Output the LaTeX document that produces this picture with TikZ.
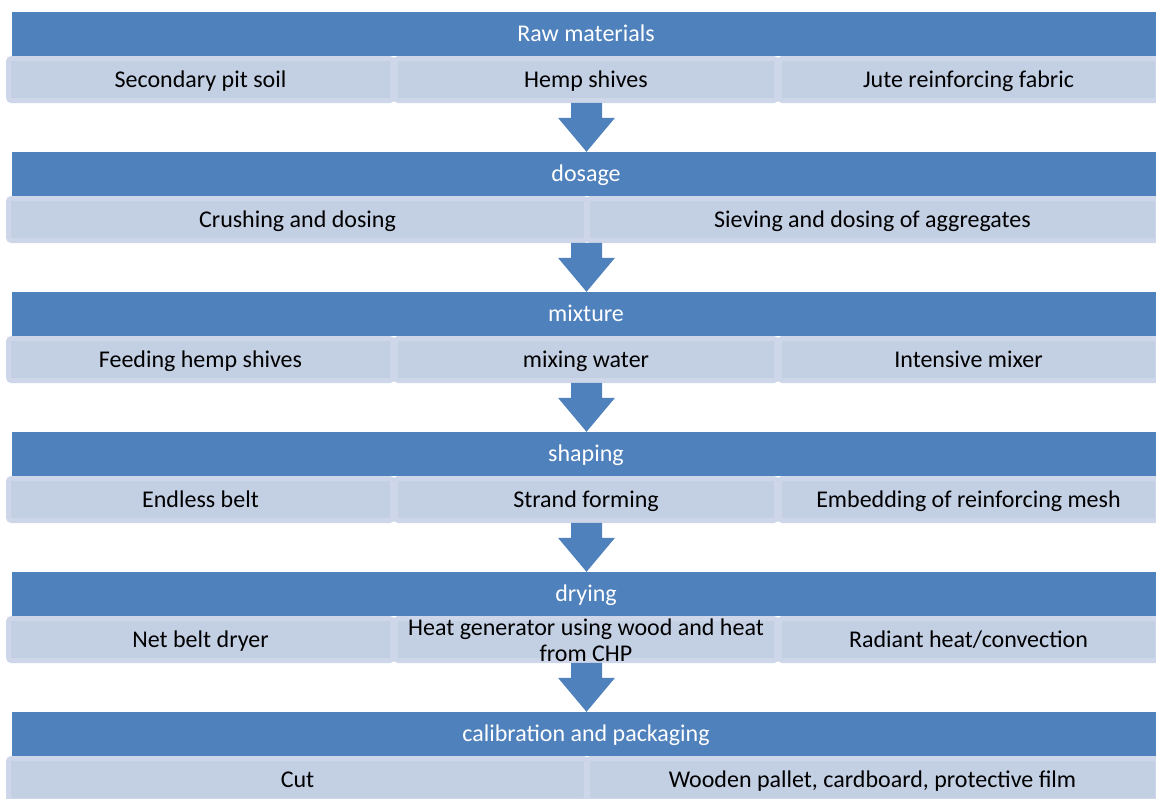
\documentclass[tikz,border=0pt]{standalone}
\usepackage{fontspec}
\usetikzlibrary{calc}
\setmainfont{Carlito}
\definecolor{hdrblue}{HTML}{4F81BD}
\definecolor{subfill}{HTML}{C3CFE3}
\definecolor{subedge}{HTML}{CED7E9}
\tikzset{
  hdr/.style={rectangle, fill=hdrblue, draw=none, text=white, minimum width=1148pt, minimum height=44pt, inner sep=0pt, text height=15.5pt, text depth=0pt, font=\fontsize{24}{27}\selectfont},
  subbox/.style={rectangle, rounded corners=3pt, fill=subfill, draw=subedge, line width=5pt, minimum height=42pt, inner sep=0pt, text height=15.5pt, text depth=0pt, text=black, font=\fontsize{24}{27}\selectfont, align=center},
  blockarrow/.style={fill=hdrblue, draw=none}
}
\begin{document}
\begin{tikzpicture}[x=1pt,y=-1pt]
\useasboundingbox (0,0) rectangle (1156,798);
\clip (0,0) rectangle (1156,798);
\fill[white] (0,0) rectangle (1156,798);

% Stage 1
\node[hdr] (h1) at (586,34) {Raw materials};
\node[subbox, minimum width=384pt] (s1a) at (200.5,79.5) {Secondary pit soil};
\node[subbox, minimum width=381pt] (s1b) at (586,79.5) {Hemp shives};
\node[subbox, minimum width=378pt] (s1c) at (968.5,79.5) {Jute reinforcing fabric};

% Stage 2
\node[hdr] (h2) at (586,174) {dosage};
\node[subbox, minimum width=578pt] (s2a) at (297.5,219.5) {Crushing and dosing};
\node[subbox, minimum width=570pt] (s2b) at (872.5,219.5) {Sieving and dosing of aggregates};

% Stage 3
\node[hdr] (h3) at (586,314) {mixture};
\node[subbox, minimum width=384pt] (s3a) at (200.5,359.5) {Feeding hemp shives};
\node[subbox, minimum width=381pt] (s3b) at (586,359.5) {mixing water};
\node[subbox, minimum width=378pt] (s3c) at (968.5,359.5) {Intensive mixer};

% Stage 4
\node[hdr] (h4) at (586,454) {shaping};
\node[subbox, minimum width=384pt] (s4a) at (200.5,499.5) {Endless belt};
\node[subbox, minimum width=381pt] (s4b) at (586,499.5) {Strand forming};
\node[subbox, minimum width=378pt] (s4c) at (968.5,499.5) {Embedding of reinforcing mesh};

% Stage 5
\node[hdr] (h5) at (586,594) {drying};
\node[subbox, minimum width=384pt] (s5a) at (200.5,639.5) {Net belt dryer};
\node[subbox, minimum width=381pt] (s5b) at (586,639.5) {};
\node[subbox, minimum width=378pt] (s5c) at (968.5,639.5) {Radiant heat/convection};

% Stage 6
\node[hdr] (h6) at (586,734) {calibration and packaging};
\node[subbox, minimum width=578pt] (s6a) at (297.5,779.5) {Cut};
\node[subbox, minimum width=570pt] (s6b) at (872.5,779.5) {Wooden pallet, cardboard, protective film};

% Block arrows
\foreach \k/\n in {1/2,2/3,3/4,4/5,5/6}{
  \coordinate (a\k) at ($(h\n.north)+(0.5,-49)$);
  \fill[blockarrow] (a\k) ++(-15.5,0) -- ++(31,0) -- ++(0,15) -- ++(13,0) -- ++(-28.5,34) -- ++(-28.5,-34) -- ++(13,0) -- cycle;
}

% Two-line label over the middle drying box
\node[font=\fontsize{24}{26}\selectfont, align=center, inner sep=0pt, text=black] (s5bt) at (586,640) {Heat generator using wood and heat\\from CHP};
\end{tikzpicture}
\end{document}
